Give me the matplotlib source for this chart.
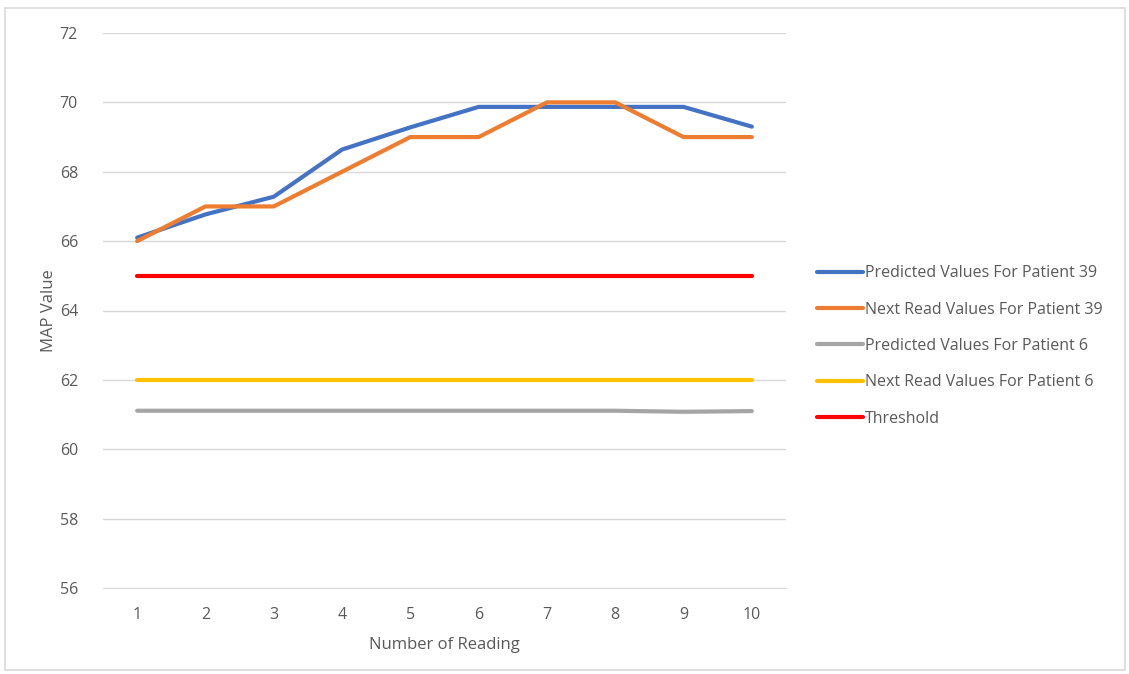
import matplotlib
matplotlib.use("Agg")
import matplotlib.pyplot as plt
from matplotlib.patches import Rectangle

readings = [1, 2, 3, 4, 5, 6, 7, 8, 9, 10]
pred_39 = [66.1, 66.77, 67.28, 68.64, 69.28, 69.87, 69.87, 69.87, 69.87, 69.3]
next_39 = [66, 67, 67, 68, 69, 69, 70, 70, 69, 69]
pred_6 = [61.11, 61.11, 61.11, 61.11, 61.11, 61.11, 61.11, 61.11, 61.08, 61.1]
next_6 = [62, 62, 62, 62, 62, 62, 62, 62, 62, 62]
threshold = [65, 65, 65, 65, 65, 65, 65, 65, 65, 65]
y_ticks = [56, 58, 60, 62, 64, 66, 68, 70, 72]

series = [
    ("Predicted Values For Patient 39", pred_39, "#4472C4"),
    ("Next Read Values For Patient 39", next_39, "#ED7D31"),
    ("Predicted Values For Patient 6", pred_6, "#A5A5A5"),
    ("Next Read Values For Patient 6", next_6, "#FFC000"),
    ("Threshold", threshold, "#FF0000"),
]

plt.rcParams["font.family"] = ["Open Sans", "DejaVu Sans"]
text_color = "#595959"

W, H = 1129, 674
fig = plt.figure(figsize=(W / 100, H / 100), dpi=100)

# outer chart border
fig.patches.append(Rectangle((5 / W, 4 / H), 1120 / W, 662 / H, transform=fig.transFigure,
                             fill=False, edgecolor="#D9D9D9", linewidth=1.2))

ax = fig.add_axes([103 / W, 1 - 588 / H, (786 - 103) / W, (588 - 33) / H])
for name, vals, col in series:
    ax.plot(readings, vals, color=col, linewidth=3.0, solid_capstyle="round",
            solid_joinstyle="round", label=name, zorder=3)

ax.set_xlim(0.5, 10.5)
ax.set_ylim(56, 72)
ax.set_yticks(y_ticks)
ax.set_xticks(readings)
ax.grid(axis="y", color="#D9D9D9", linewidth=1.0, zorder=0)
ax.set_axisbelow(True)
for s in ["top", "right", "left"]:
    ax.spines[s].set_visible(False)
ax.spines["bottom"].set_color("#D9D9D9")
ax.tick_params(axis="both", length=0, labelsize=11.5, colors=text_color)
ax.tick_params(axis="y", pad=18)
ax.tick_params(axis="x", pad=14)
ax.set_xlabel("Number of Reading", fontsize=12, color=text_color, labelpad=10)
ax.set_ylabel("MAP Value", fontsize=12, color=text_color, labelpad=2)

leg = ax.legend(loc="center left", bbox_to_anchor=(817 / W, 1 - 346 / H),
                bbox_transform=fig.transFigure, frameon=False, fontsize=11.5,
                handlelength=2.9, handletextpad=0.1, labelspacing=1.28,
                borderaxespad=0, borderpad=0)
for t in leg.get_texts():
    t.set_color(text_color)

fig.savefig("out.png", dpi=100)
